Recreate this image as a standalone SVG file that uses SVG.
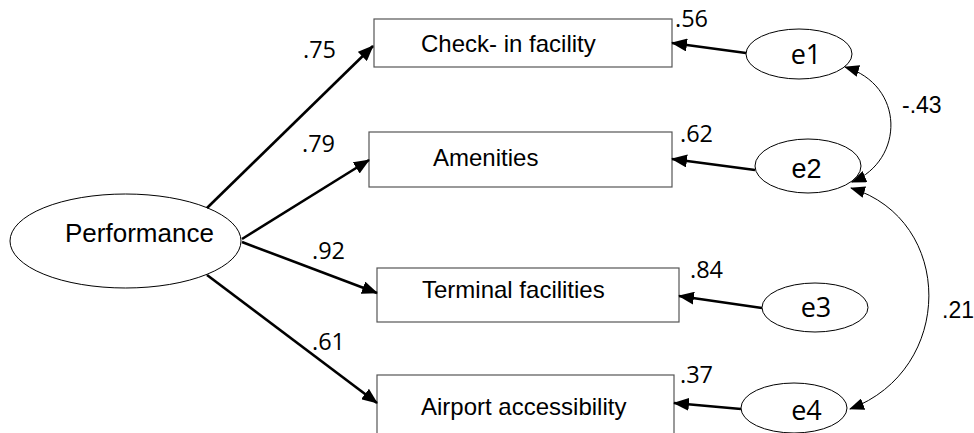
<svg xmlns="http://www.w3.org/2000/svg" width="974" height="433" viewBox="0 0 974 433">
  <defs>
    <marker id="ah" viewBox="0 0 16 13" refX="15" refY="6.5" markerWidth="16" markerHeight="13" markerUnits="userSpaceOnUse" orient="auto-start-reverse">
      <path d="M0,0 L16,6.5 L0,13 z" fill="#000"/>
    </marker>
    <marker id="ahs" viewBox="0 0 15 12" refX="14" refY="6" markerWidth="15" markerHeight="12" markerUnits="userSpaceOnUse" orient="auto-start-reverse">
      <path d="M0,0 L15,6 L0,12 z" fill="#000"/>
    </marker>
  </defs>
  <style>
    .box { fill: #fff; stroke: #555; stroke-width: 1.2; }
    .ell { fill: #fff; stroke: #000; stroke-width: 1; }
    .lbl { font-family: "Liberation Sans", Arial, sans-serif; font-size: 24px; fill: #000; }
    .err { font-family: "Open Sans", "Liberation Sans", sans-serif; font-size: 27px; fill: #000; text-anchor: middle; }
    .num { font-family: "Open Sans", "Liberation Sans", sans-serif; font-size: 23.5px; fill: #000; }
    .cov { font-family: "Liberation Sans", Arial, sans-serif; font-size: 23px; fill: #000; }
    .path { fill: none; stroke: #000; stroke-width: 2.6; marker-end: url(#ah); }
    .curve { fill: none; stroke: #000; stroke-width: 1; marker-start: url(#ahs); marker-end: url(#ahs); }
  </style>

  <rect width="974" height="433" fill="#fff"/>

  <!-- latent factor -->
  <g id="performance">
    <ellipse class="ell" cx="125.5" cy="241" rx="115.5" ry="47"/>
    <text class="lbl" x="65" y="242" style="font-size:26px">Performance</text>
  </g>

  <!-- observed indicators -->
  <g id="checkin">
    <rect class="box" x="374" y="19" width="298" height="48"/>
    <text class="lbl" x="421" y="52">Check- in facility</text>
  </g>
  <g id="amenities">
    <rect class="box" x="369" y="132" width="303" height="55"/>
    <text class="lbl" x="433" y="166">Amenities</text>
  </g>
  <g id="terminal">
    <rect class="box" x="377" y="268" width="302" height="54"/>
    <text class="lbl" x="422" y="298">Terminal facilities</text>
  </g>
  <g id="airport">
    <rect class="box" x="377" y="375" width="297" height="70"/>
    <text class="lbl" x="421" y="415">Airport accessibility</text>
  </g>

  <!-- error terms -->
  <g id="e1">
    <ellipse class="ell" cx="799" cy="54" rx="53" ry="25"/>
    <text class="err" x="806" y="64">e1</text>
  </g>
  <g id="e2">
    <ellipse class="ell" cx="808" cy="166" rx="53" ry="27"/>
    <text class="lbl" x="806.5" y="178" text-anchor="middle" style="font-size:27px">e2</text>
  </g>
  <g id="e3">
    <ellipse class="ell" cx="815" cy="307.5" rx="53" ry="24.5"/>
    <text class="err" x="816" y="317">e3</text>
  </g>
  <g id="e4">
    <ellipse class="ell" cx="794" cy="408" rx="53" ry="25"/>
    <text class="err" x="806.5" y="420">e4</text>
  </g>

  <!-- connectors -->
  <g id="connectors">
    <path class="path" d="M207,208 L373,46"/>
    <path class="path" d="M242,239 L369,160"/>
    <path class="path" d="M242,242 L377,293"/>
    <path class="path" d="M207,275 L377,403"/>
    <path class="path" d="M746,53 L672,43"/>
    <path class="path" d="M755,170 L672,159"/>
    <path class="path" d="M762,308 L679,296"/>
    <path class="path" d="M741,409 L674,403"/>
    <path class="curve" d="M845,67 C905,85 905,160 852,182"/>
    <path class="curve" d="M851,188 C955,220 955,370 850,409"/>
  </g>

  <!-- coefficients -->
  <g id="labels">
    <text class="num" x="303" y="58">.75</text>
    <text class="num" x="302" y="152">.79</text>
    <text class="num" x="312" y="259">.92</text>
    <text class="num" x="312" y="350">.61</text>
    <text class="num" x="675" y="27">.56</text>
    <text class="num" x="680" y="142">.62</text>
    <text class="num" x="690" y="278">.84</text>
    <text class="num" x="680" y="383">.37</text>
    <text class="cov" x="902" y="113">-.43</text>
    <text class="cov" x="942" y="318">.21</text>
  </g>
</svg>
